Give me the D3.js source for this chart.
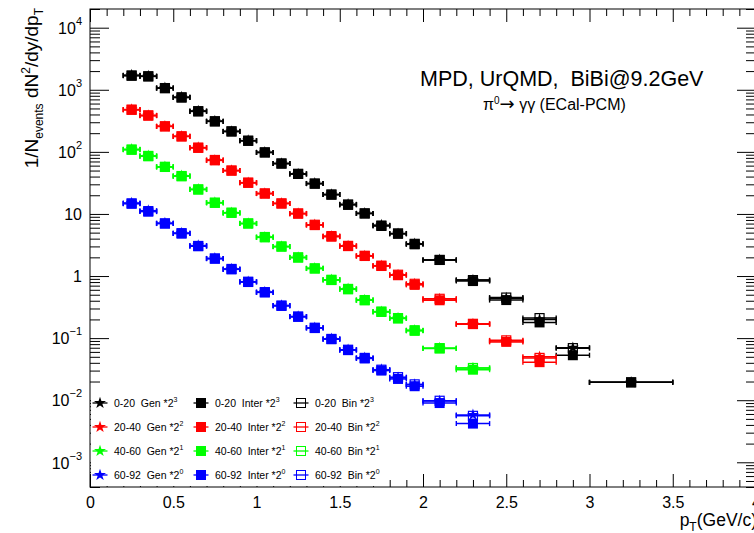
<!DOCTYPE html>
<html>
<head>
<meta charset="utf-8">
<script src="https://cdn.jsdelivr.net/npm/d3@7/dist/d3.min.js"></script>
<style>
  html, body { margin: 0; padding: 0; background: #fff; }
  svg { display: block; font-family: "Liberation Sans", Arial, Helvetica, sans-serif; }
</style>
</head>
<body>
<svg id="chart" width="754" height="533"></svg>
<script>
// pT bin centres and half widths (GeV/c)
const ptCenters = [0.25, 0.35, 0.45, 0.55, 0.65, 0.75, 0.85, 0.95, 1.05, 1.15,
                   1.25, 1.35, 1.45, 1.55, 1.65, 1.75, 1.85, 1.95, 2.1, 2.3,
                   2.5, 2.7, 2.9, 3.25];
const ptHalfWidths = [0.05, 0.05, 0.05, 0.05, 0.05, 0.05, 0.05, 0.05, 0.05, 0.05,
                      0.05, 0.05, 0.05, 0.05, 0.05, 0.05, 0.05, 0.05, 0.1, 0.1,
                      0.1, 0.1, 0.1, 0.25];

const centralities = ["0-20", "20-40", "40-60", "60-92"];
const scaleExponents = [3, 2, 1, 0];
const colors = ["#000000", "#ff0000", "#00ff00", "#0000ff"];

// generated spectra (scaled by 2^n)
const gen0_20  = [1720, 1660, 1070, 760, 455, 312, 213, 152, 98, 65, 44, 31, 20.6, 14.3, 10.2, 6.6, 4.8, 3.3, 1.82, 0.86, 0.44, 0.2, 0.07, 0.0194];
const gen20_40 = [480, 385, 258, 178, 117, 73, 50, 31.8, 21.3, 14.8, 10.1, 6.7, 4.35, 3.05, 2.1, 1.46, 1.04, 0.74, 0.425, 0.168, 0.09, 0.05];
const gen40_60 = [110, 86, 57.5, 41, 24.9, 15.2, 10.4, 7.0, 4.2, 2.98, 1.99, 1.33, 0.87, 0.62, 0.41, 0.266, 0.21, 0.133, 0.069, 0.033];
const gen60_92 = [15.0, 11.3, 7.1, 4.9, 3.1, 1.92, 1.29, 0.81, 0.55, 0.335, 0.222, 0.147, 0.097, 0.065, 0.048, 0.031, 0.023, 0.0178, 0.0097, 0.0058];

// reconstructed spectra, interpolation method
const inter0_20  = [1680, 1640, 1060, 750, 448, 309, 213, 151, 98, 64.7, 44, 30.8, 20.5, 14.0, 10.2, 6.4, 4.8, 3.24, 1.81, 0.83, 0.41, 0.179, 0.053, 0.0194];
const inter20_40 = [476, 382, 257, 177, 116, 73, 49.9, 31.7, 21.3, 14.7, 10.1, 6.6, 4.3, 3.03, 2.10, 1.45, 1.03, 0.72, 0.407, 0.168, 0.087, 0.041];
const inter40_60 = [108, 84.8, 57, 40.4, 24.7, 15.1, 10.4, 7.0, 4.2, 2.97, 1.98, 1.32, 0.86, 0.61, 0.407, 0.264, 0.207, 0.131, 0.068, 0.031];
const inter60_92 = [14.6, 10.9, 7.0, 4.83, 3.02, 1.9, 1.28, 0.80, 0.545, 0.33, 0.22, 0.145, 0.096, 0.064, 0.047, 0.030, 0.022, 0.0168, 0.0090, 0.0042];

// reconstructed spectra, bin-counting method
const bin0_20  = [1700, 1650, 1065, 755, 452, 311, 214, 151, 98, 65, 44.3, 30.8, 20.5, 14.2, 10.2, 6.5, 4.85, 3.3, 1.82, 0.86, 0.45, 0.21, 0.069, 0.0194];
const bin20_40 = [478, 388, 258, 178, 117, 74, 50, 32, 21.4, 14.8, 10.2, 6.7, 4.4, 3.06, 2.12, 1.47, 1.05, 0.75, 0.43, 0.17, 0.092, 0.048];
const bin40_60 = [109, 86, 57.5, 40.8, 24.9, 15.2, 10.5, 7.05, 4.25, 3.0, 2.0, 1.33, 0.87, 0.62, 0.41, 0.268, 0.21, 0.134, 0.069, 0.033];
const bin60_92 = [14.8, 11.1, 7.05, 4.9, 3.05, 1.92, 1.3, 0.81, 0.55, 0.335, 0.223, 0.147, 0.097, 0.065, 0.048, 0.031, 0.0235, 0.018, 0.0098, 0.0056];

const genSets = [gen0_20, gen20_40, gen40_60, gen60_92];
const interSets = [inter0_20, inter20_40, inter40_60, inter60_92];
const binSets = [bin0_20, bin20_40, bin40_60, bin60_92];

const xMajorTicks = [0, 0.5, 1, 1.5, 2, 2.5, 3, 3.5, 4];
const xTickLabels = ["0", "0.5", "1", "1.5", "2", "2.5", "3", "3.5", "4"];

// ---- layout
const svg = d3.select("#chart");
const frameL = 90, frameR = 756, frameT = 9, frameB = 487;

const x = d3.scaleLinear().domain([0, 4]).range([frameL, frameR]);
const y = d3.scaleLog().domain([4e-4, 2e4]).range([frameB, frameT]);

const xMinor = d3.range(0, 41).map(d => d / 10).filter(v => !xMajorTicks.some(m => Math.abs(m - v) < 1e-9));
const yAll = y.ticks(10);
const yMajor = yAll.filter(v => Math.abs(Math.log10(v) - Math.round(Math.log10(v))) < 1e-9);
const yMinor = yAll.filter(v => !yMajor.includes(v));

function styleAxis(g) {
  g.select(".domain").remove();
  g.selectAll("line").attr("stroke", "#000").attr("stroke-width", 1);
}

// bottom axis (labels + major), minor
svg.append("g").attr("transform", `translate(0,${frameB})`)
  .call(d3.axisBottom(x).tickValues(xMajorTicks).tickSizeInner(-13).tickSizeOuter(0).tickPadding(10)
        .tickFormat((d, i) => xTickLabels[i]))
  .call(styleAxis)
  .call(g => g.selectAll("text").attr("font-size", 16).attr("fill", "#000")
        .attr("font-family", "'Liberation Sans', Arial, sans-serif"));
svg.append("g").attr("transform", `translate(0,${frameB})`)
  .call(d3.axisBottom(x).tickValues(xMinor).tickSizeInner(-7).tickSizeOuter(0).tickFormat(""))
  .call(styleAxis);
// top axis
svg.append("g").attr("transform", `translate(0,${frameT})`)
  .call(d3.axisTop(x).tickValues(xMajorTicks).tickSizeInner(-13).tickSizeOuter(0).tickFormat(""))
  .call(styleAxis);
svg.append("g").attr("transform", `translate(0,${frameT})`)
  .call(d3.axisTop(x).tickValues(xMinor).tickSizeInner(-7).tickSizeOuter(0).tickFormat(""))
  .call(styleAxis);

// left axis with power-of-ten labels
const yLeft = svg.append("g").attr("transform", `translate(${frameL},0)`)
  .call(d3.axisLeft(y).tickValues(yMajor).tickSizeInner(-19).tickSizeOuter(0).tickPadding(8).tickFormat(""))
  .call(styleAxis);
yLeft.selectAll(".tick").each(function(d) {
  const e = Math.round(Math.log10(d));
  const t = d3.select(this).select("text")
    .attr("font-size", 16).attr("fill", "#000").attr("dy", "0.36em")
    .attr("font-family", "'Liberation Sans', Arial, sans-serif");
  if (e === 0) t.text("1");
  else if (e === 1) t.text("10");
  else {
    t.text("10");
    t.append("tspan").attr("dy", -9).attr("font-size", 11).text(e < 0 ? "\u2212" + (-e) : String(e));
  }
});
svg.append("g").attr("transform", `translate(${frameL},0)`)
  .call(d3.axisLeft(y).tickValues(yMinor).tickSizeInner(-10).tickSizeOuter(0).tickFormat(""))
  .call(styleAxis);
// right axis
svg.append("g").attr("transform", `translate(${frameR},0)`)
  .call(d3.axisRight(y).tickValues(yMajor).tickSizeInner(-19).tickSizeOuter(0).tickFormat(""))
  .call(styleAxis);
svg.append("g").attr("transform", `translate(${frameR},0)`)
  .call(d3.axisRight(y).tickValues(yMinor).tickSizeInner(-10).tickSizeOuter(0).tickFormat(""))
  .call(styleAxis);

// ---- data points
const starSym = d3.symbol().type(d3.symbolStar).size(45);
const plot = svg.append("g");

function drawSet(values, color, kind) {
  const g = plot.append("g");
  values.forEach((v, i) => {
    const px = x(ptCenters[i]);
    const py = y(v);
    const x0 = x(ptCenters[i] - ptHalfWidths[i]);
    const x1 = x(ptCenters[i] + ptHalfWidths[i]);
    g.append("line").attr("x1", x0).attr("x2", x1).attr("y1", py).attr("y2", py)
      .attr("stroke", color).attr("stroke-width", 1.5);
    [x0, x1].forEach(xe => g.append("line").attr("x1", xe).attr("x2", xe)
      .attr("y1", py - 2.5).attr("y2", py + 2.5).attr("stroke", color).attr("stroke-width", 1.4));
    if (kind === "gen") {
      g.append("path").attr("d", starSym()).attr("transform", `translate(${px},${py})`).attr("fill", color);
    } else if (kind === "inter") {
      g.append("rect").attr("x", px - 5).attr("y", py - 5).attr("width", 10).attr("height", 10).attr("fill", color);
    } else {
      g.append("rect").attr("x", px - 4.5).attr("y", py - 4.5).attr("width", 9).attr("height", 9)
        .attr("fill", "none").attr("stroke", color).attr("stroke-width", 1.2);
    }
  });
}

for (let s = 0; s < 4; s++) {
  drawSet(genSets[s], colors[s], "gen");
  drawSet(interSets[s], colors[s], "inter");
  drawSet(binSets[s], colors[s], "bin");
}

// ---- legend (white box inside the frame)
const legend = svg.append("g");
legend.append("rect").attr("x", frameL + 1).attr("y", 386).attr("width", 297).attr("height", frameB - 387).attr("fill", "#fff");
const colX = [100, 201, 301];
const rowY = [403, 427, 451, 475];
const kinds = ["gen", "inter", "bin"];
const kindNames = ["Gen", "Inter", "Bin"];
for (let r = 0; r < 4; r++) {
  for (let c = 0; c < 3; c++) {
    const cx = colX[c], cy = rowY[r], col = colors[r];
    const g = legend.append("g");
    g.append("line").attr("x1", cx - 7.5).attr("x2", cx + 7.5).attr("y1", cy).attr("y2", cy)
      .attr("stroke", col).attr("stroke-width", 1.3);
    if (kinds[c] === "gen") {
      g.append("path").attr("d", d3.symbol().type(d3.symbolStar).size(45)()).attr("transform", `translate(${cx},${cy})`).attr("fill", col);
    } else if (kinds[c] === "inter") {
      g.append("rect").attr("x", cx - 5).attr("y", cy - 5).attr("width", 10).attr("height", 10).attr("fill", col);
    } else {
      g.append("rect").attr("x", cx - 4.5).attr("y", cy - 4.5).attr("width", 9).attr("height", 9)
        .attr("fill", "none").attr("stroke", col).attr("stroke-width", 1);
    }
    const t = g.append("text").attr("x", cx + 14).attr("y", cy + 4).attr("font-size", 10.5)
      .attr("fill", "#000").style("white-space", "pre")
      .text(`${centralities[r]}  ${kindNames[c]} *2`);
    t.append("tspan").attr("dy", -5).attr("font-size", 7).text(String(scaleExponents[r]));
  }
}

// ---- frame
svg.append("rect").attr("x", frameL).attr("y", frameT).attr("width", frameR - frameL).attr("height", frameB - frameT)
  .attr("fill", "none").attr("stroke", "#000").attr("stroke-width", 1);

// ---- titles (sub/superscript shifts in px so the baseline returns exactly)
const yTitle = svg.append("text").attr("transform", `translate(38,8) rotate(-90)`)
  .attr("text-anchor", "end").attr("font-size", 19).attr("fill", "#000");
yTitle.append("tspan").text("1/N");
yTitle.append("tspan").attr("font-size", 12).attr("dy", 5).text("events");
yTitle.append("tspan").attr("dy", -5).text(" dN");
yTitle.append("tspan").attr("font-size", 12).attr("dy", -8).text("2");
yTitle.append("tspan").attr("dy", 8).text("/dy/dp");
yTitle.append("tspan").attr("font-size", 12).attr("dy", 5).text("T");

const xTitle = svg.append("text").attr("x", 757).attr("y", 526).attr("text-anchor", "end")
  .attr("font-size", 17.5).attr("fill", "#000");
xTitle.append("tspan").text("p");
xTitle.append("tspan").attr("font-size", 12).attr("dy", 5).text("T");
xTitle.append("tspan").attr("dy", -5).text("(GeV/c)");

svg.append("text").attr("x", 420).attr("y", 86).attr("font-size", 21.5).attr("fill", "#000")
  .style("white-space", "pre").text("MPD, UrQMD,  BiBi@9.2GeV");

const sub = svg.append("text").attr("x", 483).attr("y", 110).attr("font-size", 16).attr("fill", "#000")
  .style("white-space", "pre");
sub.append("tspan").text("\u03c0");
sub.append("tspan").attr("font-size", 10).attr("dy", -6).text("0");
sub.append("tspan").attr("dy", 6).attr("font-size", 18).attr("font-family", "'DejaVu Sans', sans-serif").text("\u2192");
sub.append("tspan").text(" \u03b3\u03b3 (ECal-PCM)");
</script>
</body>
</html>
